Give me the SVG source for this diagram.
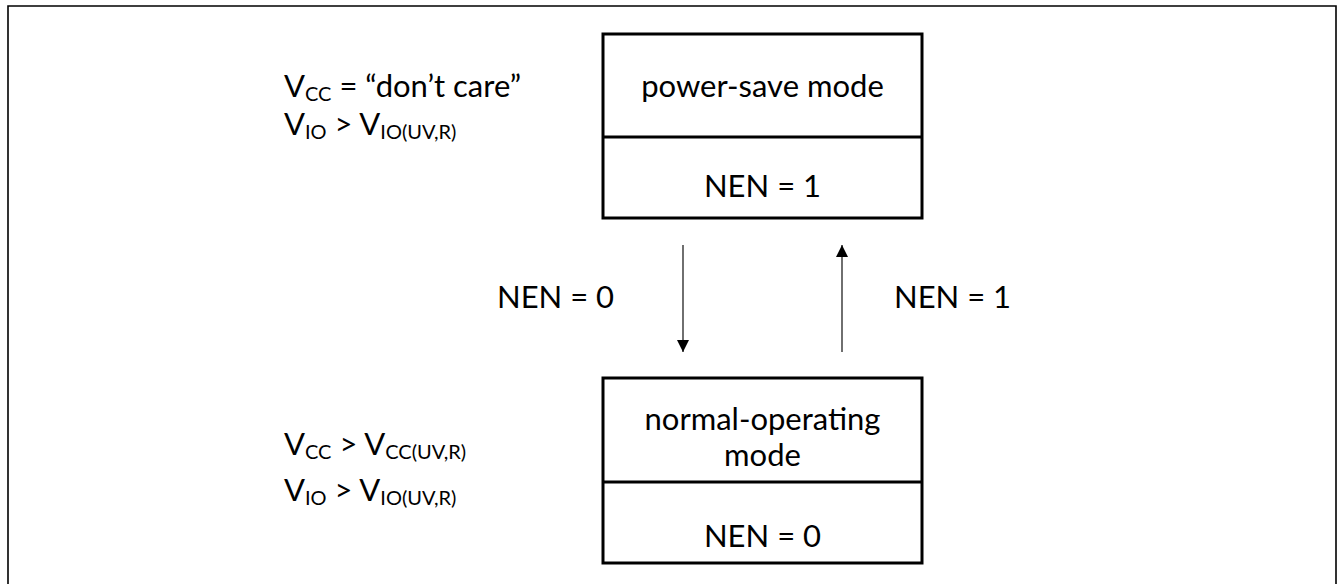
<svg xmlns="http://www.w3.org/2000/svg" width="1338" height="584" viewBox="0 0 1338 584">
<defs>
<style>
text{font-family:Lato,"Liberation Sans",sans-serif;font-size:31px;fill:#000}
.c{text-anchor:middle}
.sub{font-size:20px}
.box{fill:#fff;stroke:#000;stroke-width:3}
.div{stroke:#000;stroke-width:3}
.conn{stroke:#222;stroke-width:1.3;fill:none}
</style>
<marker id="ah" markerUnits="userSpaceOnUse" markerWidth="13" markerHeight="13" refX="12" refY="6.5" orient="auto">
<path d="M0,0.5 L12,6.5 L0,12.5 z" fill="#000"/>
</marker>
</defs>
<rect width="1338" height="584" fill="#fff"/>
<path d="M8,590 V6 H1336 V590" fill="none" stroke="#000" stroke-width="1.6"/>
<g id="power-save">
<rect class="box" x="603" y="34" width="319" height="184"/>
<line class="div" x1="603" y1="137" x2="922" y2="137"/>
<text class="c" x="762.5" y="97">power-save mode</text>
<text class="c" x="762.5" y="197">NEN = 1</text>
</g>
<g id="normal-operating">
<rect class="box" x="603" y="378" width="319" height="185"/>
<line class="div" x1="603" y1="482" x2="922" y2="482"/>
<text class="c" x="762.5" y="430">normal-operating</text>
<text class="c" x="762.5" y="466">mode</text>
<text class="c" x="762.5" y="547">NEN = 0</text>
</g>
<g id="cond-power-save">
<text x="284" y="97">V<tspan class="sub" dy="4">CC</tspan><tspan dy="-4"> = “don’t care”</tspan></text>
<text x="284" y="135">V<tspan class="sub" dy="4">IO</tspan><tspan dy="-4"> &gt; V</tspan><tspan class="sub" dy="4">IO(UV,R)</tspan></text>
</g>
<g id="cond-normal">
<text x="284" y="455">V<tspan class="sub" dy="4">CC</tspan><tspan dy="-4"> &gt; V</tspan><tspan class="sub" dy="4">CC(UV,R)</tspan></text>
<text x="284" y="501">V<tspan class="sub" dy="4">IO</tspan><tspan dy="-4"> &gt; V</tspan><tspan class="sub" dy="4">IO(UV,R)</tspan></text>
</g>
<g id="connectors">
<line class="conn" x1="683" y1="245" x2="683" y2="352" marker-end="url(#ah)"/>
<line class="conn" x1="842" y1="352" x2="842" y2="245" marker-end="url(#ah)"/>
<text x="497" y="308">NEN = 0</text>
<text x="894" y="308">NEN = 1</text>
</g>
</svg>
